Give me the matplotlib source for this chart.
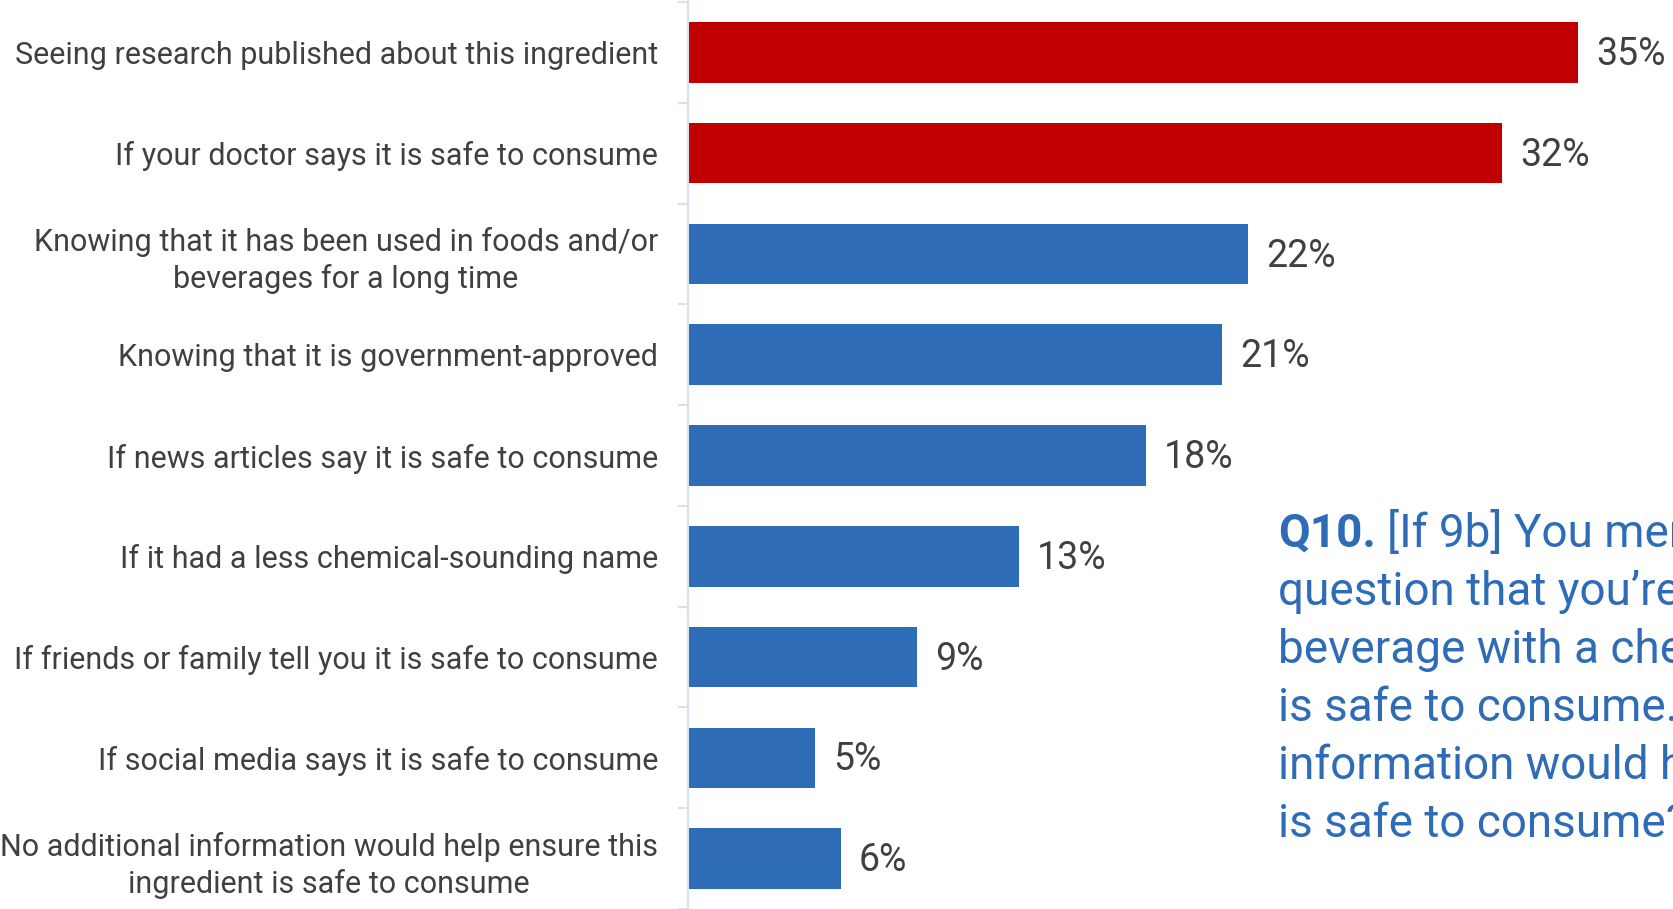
import matplotlib
matplotlib.use("Agg")
import matplotlib.pyplot as plt
import matplotlib.transforms as mtransforms
import numpy as np

plt.rcParams['font.family'] = ['Roboto', 'DejaVu Sans']

categories = [
    "Seeing research published about this ingredient",
    "If your doctor says it is safe to consume",
    "Knowing that it has been used in foods and/or\nbeverages for a long time",
    "Knowing that it is government-approved",
    "If news articles say it is safe to consume",
    "If it had a less chemical-sounding name",
    "If friends or family tell you it is safe to consume",
    "If social media says it is safe to consume",
    "No additional information would help ensure this\ningredient is safe to consume",
]
values = [35, 32, 22, 21, 18, 13, 9, 5, 6]
highlight = [True, True, False, False, False, False, False, False, False]

question_head = "Q10."
question_first = "[If 9b] You mentioned in a previous"
question_lines = [
    "question that you\u2019re unlikely to consume a food or",
    "beverage with a chemical-sounding ingredient unless it",
    "is safe to consume. What additional",
    "information would help ensure this ingredient",
    "is safe to consume?",
]

RED = "#C00000"
BLUE = "#2E6CB8"
TEXT = "#404040"
AXIS = "#D6E1F0"

W, H = 1673, 909
fig = plt.figure(figsize=(W / 100, H / 100), dpi=100)
ax = fig.add_axes([688 / W, 0.0, 1 - 688 / W, 1.0])

y = np.arange(len(categories))
colors = [RED if h else BLUE for h in highlight]
ax.barh(y, values, height=0.6, color=colors, zorder=2)

ax.set_ylim(len(categories) - 0.52, -0.52)
ax.set_xlim(0, 38.73)

for yi, v in zip(y, values):
    ax.text(v + 0.72, yi + 0.125, f"{v}%", va="baseline", ha="left",
            fontsize=27, color=TEXT)

ax.set_yticks(y)
ax.set_yticklabels(categories, fontsize=22, color=TEXT)
lift = mtransforms.ScaledTranslation(0, 3 / 100, fig.dpi_scale_trans)
for lbl in ax.get_yticklabels():
    lbl.set_multialignment("center")
    lbl.set_linespacing(1.3)
    lbl.set_transform(lbl.get_transform() + lift)
ax.set_yticks(np.arange(len(categories) + 1) - 0.5, minor=True)
ax.tick_params(axis="y", which="major", length=0, pad=21.5)
ax.tick_params(axis="y", which="minor", length=7, width=1.5, color=AXIS)
ax.set_xticks([])

for side in ["top", "right", "bottom"]:
    ax.spines[side].set_visible(False)
ax.spines["left"].set_color(AXIS)
ax.spines["left"].set_linewidth(1.5)

# Question text on the right, running past the figure edge
qx = 1278 / W
fig.text(qx, 1 - 547 / H, question_head, fontsize=33, fontweight="bold",
         color=BLUE, ha="left", va="baseline")
fig.text(qx + 109 / W, 1 - 547 / H, question_first, fontsize=33,
         color=BLUE, ha="left", va="baseline")
for i, line in enumerate(question_lines):
    fig.text(qx, 1 - (547 + 58 * (i + 1)) / H, line, fontsize=33,
             color=BLUE, ha="left", va="baseline")

fig.savefig("out.png", dpi=100, facecolor="white")
